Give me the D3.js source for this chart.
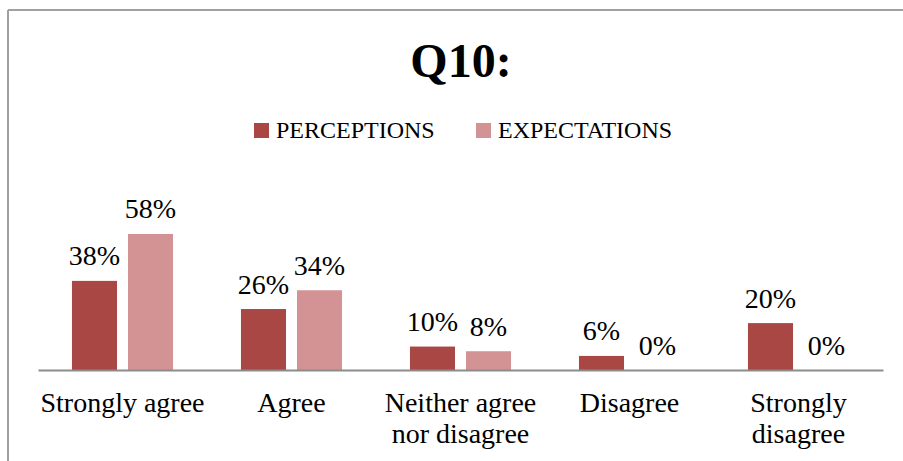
<!DOCTYPE html>
<html>
<head>
<meta charset="utf-8">
<script src="https://cdn.jsdelivr.net/npm/d3@7"></script>
<style>
  html, body { margin: 0; padding: 0; background: #fff; }
  svg { display: block; }
  text { font-family: "Liberation Serif", "Times New Roman", serif; fill: #000; }
</style>
</head>
<body>
<svg id="chart" width="903" height="461"></svg>
<script>
const title = "Q10:";
const categories = [
  ["Strongly agree"],
  ["Agree"],
  ["Neither agree", "nor disagree"],
  ["Disagree"],
  ["Strongly", "disagree"]
];
const seriesNames = ["PERCEPTIONS", "EXPECTATIONS"];
const perceptions = [38, 26, 10, 6, 20];
const expectations = [58, 34, 8, 0, 0];
const seriesColors = ["#A94744", "#D39293"];

const W = 903, H = 461;
const svg = d3.select("#chart");

// outer frame (left and top edges visible)
svg.append("line").attr("x1", 8).attr("y1", 10).attr("x2", W).attr("y2", 10)
  .attr("stroke", "#a0a0a0").attr("stroke-width", 2);
svg.append("line").attr("x1", 8).attr("y1", 10).attr("x2", 8).attr("y2", H)
  .attr("stroke", "#a0a0a0").attr("stroke-width", 2);

// title
svg.append("text").attr("x", 461).attr("y", 77)
  .attr("text-anchor", "middle").attr("font-size", 48).attr("font-weight", "bold")
  .text(title);

// legend
const legendItems = [
  { name: seriesNames[0], color: seriesColors[0], x: 254 },
  { name: seriesNames[1], color: seriesColors[1], x: 476 }
];
const lg = svg.append("g");
legendItems.forEach(d => {
  lg.append("rect").attr("x", d.x).attr("y", 123).attr("width", 15).attr("height", 15).attr("fill", d.color);
  lg.append("text").attr("x", d.x + 22).attr("y", 138).attr("font-size", 24).text(d.name);
});

// scales
const idx = d3.range(categories.length);
const x0 = d3.scaleBand().domain(idx).range([38, 883]).paddingInner(0.402).paddingOuter(0.201);
const x1 = d3.scaleBand().domain([0, 1]).range([0, x0.bandwidth()]).paddingInner(0.196).paddingOuter(0);
const y = d3.scaleLinear().domain([0, 70]).range([370, 370 - 70 * 2.345]);

const series = [perceptions, expectations];
const data = [];
idx.forEach(i => series.forEach((s, j) => data.push({ i, j, v: s[i] })));

const g = svg.append("g");
g.selectAll("rect.bar").data(data).join("rect")
  .attr("class", "bar")
  .attr("x", d => x0(d.i) + x1(d.j))
  .attr("width", x1.bandwidth())
  .attr("y", d => y(d.v))
  .attr("height", d => y(0) - y(d.v))
  .attr("fill", d => seriesColors[d.j]);

g.selectAll("text.val").data(data).join("text")
  .attr("class", "val")
  .attr("x", d => x0(d.i) + x1(d.j) + x1.bandwidth() / 2)
  .attr("y", d => y(d.v) - 15.5)
  .attr("text-anchor", "middle").attr("font-size", 28)
  .text(d => d.v + "%");

// axis
const axis = d3.axisBottom(x0).tickSize(0).tickFormat(() => "");
const ax = svg.append("g").attr("transform", `translate(0,${y(0)})`).call(axis);
ax.select(".domain").attr("stroke", "#8c8c8c").attr("stroke-width", 2);

// category labels
idx.forEach(i => {
  const t = svg.append("text").attr("text-anchor", "middle").attr("font-size", 28)
    .attr("x", x0(i) + x0.bandwidth() / 2).attr("y", 412);
  categories[i].forEach((line, k) => {
    t.append("tspan").attr("x", x0(i) + x0.bandwidth() / 2).attr("y", 412 + k * 31).text(line);
  });
});
</script>
</body>
</html>
